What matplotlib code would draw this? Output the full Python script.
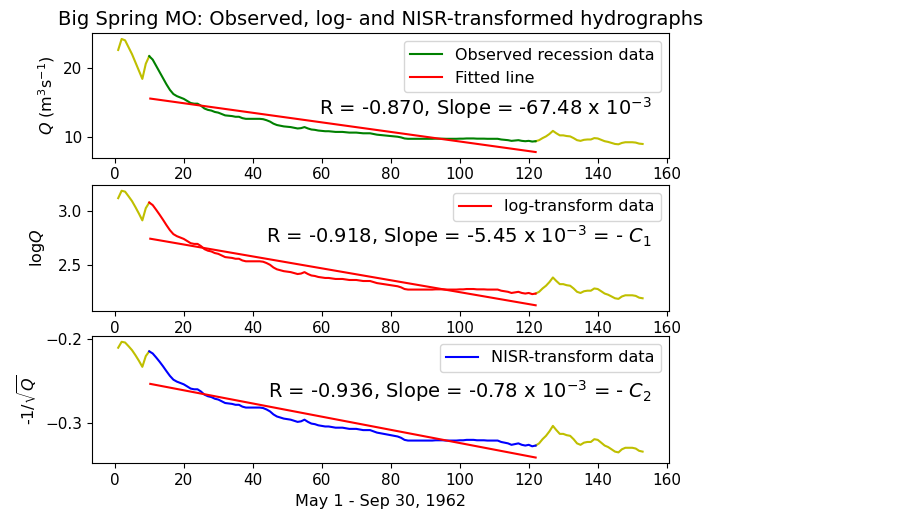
import numpy as np
import matplotlib
matplotlib.use("Agg")
import matplotlib.pyplot as plt

# daily discharge, Big Spring MO, May 1 - Sep 30 1962
days = np.arange(1, 154)
Q = np.array([
    22.6, 24.2, 24.0, 23.0, 22.0, 20.8, 19.6, 18.4, 20.6, 21.7,   # 1-10
    21.2, 20.3, 19.4, 18.5, 17.6, 16.8, 16.2, 15.9, 15.7, 15.5,   # 11-20
    15.2, 14.9, 14.8, 14.8, 14.5, 14.1, 13.9, 13.8, 13.6, 13.5,   # 21-30
    13.3, 13.1, 13.05, 13.0, 12.9, 12.9, 12.7, 12.6, 12.6, 12.6,  # 31-40
    12.6, 12.6, 12.55, 12.4, 12.2, 11.9, 11.7, 11.6, 11.5, 11.45, # 41-50
    11.4, 11.3, 11.2, 11.25, 11.4, 11.2, 11.05, 11.0, 10.9, 10.85,# 51-60
    10.8, 10.8, 10.75, 10.7, 10.7, 10.7, 10.65, 10.6, 10.6, 10.6, # 61-70
    10.55, 10.5, 10.5, 10.5, 10.4, 10.3, 10.25, 10.2, 10.15, 10.1,# 71-80
    10.05, 10.0, 9.9, 9.75, 9.7, 9.7, 9.7, 9.7, 9.7, 9.7,         # 81-90
    9.7, 9.7, 9.72, 9.72, 9.72, 9.7, 9.7, 9.7, 9.7, 9.72,         # 91-100
    9.72, 9.75, 9.75, 9.75, 9.72, 9.72, 9.72, 9.7, 9.7, 9.7,      # 101-110
    9.7, 9.6, 9.55, 9.5, 9.4, 9.45, 9.5, 9.4, 9.35, 9.4,          # 111-120
    9.3, 9.35, 9.5, 9.8, 10.05, 10.4, 10.85, 10.5, 10.2, 10.2,    # 121-130
    10.1, 10.05, 9.8, 9.5, 9.4, 9.55, 9.6, 9.6, 9.8, 9.75,        # 131-140
    9.55, 9.35, 9.25, 9.1, 8.95, 8.9, 9.1, 9.2, 9.2, 9.2,         # 141-150
    9.15, 9.0, 8.95,                                              # 151-153
])

rec_start, rec_end = 10, 122   # recession period used for fitting

labels = ["Observed recession data", "log-transform data", "NISR-transform data"]
rec_colors = ["g", "r", "b"]
ylabels = [r"$Q$ (m$^3$s$^{-1}$)", r"log$Q$", r"-1/$\sqrt{Q}$"]
notes = [r"R = -0.870, Slope = -67.48 x 10$^{-3}$",
         r"R = -0.918, Slope = -5.45 x 10$^{-3}$ = - $C_1$",
         r"R = -0.936, Slope = -0.78 x 10$^{-3}$ = - $C_2$"]

series = [Q, np.log(Q), -1.0 / np.sqrt(Q)]

fig = plt.figure(figsize=(9.07, 5.32), dpi=100)
boxes = [[0.1014, 0.7036, 0.636, 0.2338],
         [0.1014, 0.4154, 0.636, 0.2368],
         [0.1014, 0.1291, 0.636, 0.2393]]
note_y = [0.343, 0.542, 0.511]
pads = [4.0, 8.0, 4.0]

rec = (days >= rec_start) & (days <= rec_end)
before = days <= rec_start
after = days >= rec_end

for i, y in enumerate(series):
    ax = fig.add_axes(boxes[i])
    ax.plot(days[before], y[before], color="y")
    ax.plot(days[after], y[after], color="y")
    ax.plot(days[rec], y[rec], color=rec_colors[i], label=labels[i])
    # least squares line through the recession limb
    k, b = np.polyfit(days[rec], y[rec], 1)
    xf = np.array([rec_start + 0.3, rec_end])
    if i == 0:
        ax.plot(xf, k * xf + b, color="r", label="Fitted line")
    else:
        ax.plot(xf, k * xf + b, color="r")
    ax.set_ylabel(ylabels[i], fontsize=11.5, labelpad=pads[i])
    ax.legend(loc="upper right", fontsize=11.5)
    ax.text(0.97, note_y[i], notes[i], transform=ax.transAxes,
            ha="right", va="baseline", fontsize=14)
    ax.set_xticks([0, 20, 40, 60, 80, 100, 120, 140, 160])
    ax.tick_params(labelsize=11)
    if i == 0:
        ax.set_yticks([10, 20])
        ax.set_title("Big Spring MO: Observed, log- and NISR-transformed hydrographs",
                     fontsize=14)
    elif i == 1:
        ax.set_yticks([2.5, 3.0])
    else:
        ax.set_yticks([-0.3, -0.2])
        ax.set_xlabel("May 1 - Sep 30, 1962", fontsize=11.5)

fig.savefig("out.png", dpi=100)
